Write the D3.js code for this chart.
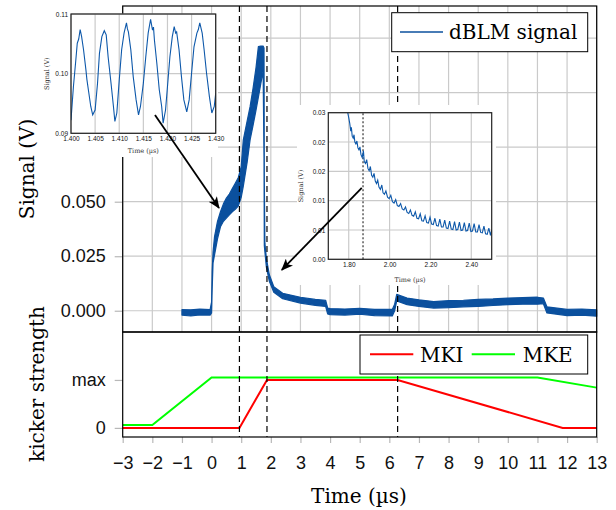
<!DOCTYPE html>
<html lang="en">
<head>
<meta charset="utf-8">
<title>dBLM signal and kicker strength</title>
<script src="https://cdnjs.cloudflare.com/ajax/libs/d3/7.8.5/d3.min.js"></script>
<style>
  body { margin: 0; background: #fff; }
  svg { display: block; font-family: "DejaVu Serif", serif; }
  .grid line { stroke: #cacaca; stroke-width: 1.2; }
  .axis path { display: none; }
  .axis line { stroke: #b8b8b8; stroke-width: 1.2; }
  .axis text { fill: #111; }
</style>
</head>
<body>
<script>
// ---- main dBLM signal, envelope of the noisy trace (time in us, volts)
var sigT  = [-1.00, -0.70, -0.40, -0.05, 0.00, 0.02, 0.05, 0.10, 0.20, 0.30, 0.40, 0.50, 0.60, 0.70, 0.80, 0.90, 1.00, 1.07, 1.20, 1.30, 1.40, 1.50, 1.58, 1.66, 1.74, 1.77, 1.78, 1.80, 1.85, 1.95, 2.10, 2.40, 3.00, 3.50, 3.85, 3.92, 4.00, 4.50, 5.00, 5.50, 6.10, 6.18, 6.25, 6.60, 7.00, 7.50, 8.00, 8.50, 9.00, 9.50, 10.00, 10.50, 11.00, 11.20, 11.32, 12.00, 12.50, 13.00];
var sigLo = [-0.0020, -0.0024, -0.0019, -0.0020, -0.0010, 0.0100, 0.0220, 0.0256, 0.0330, 0.0385, 0.0410, 0.0425, 0.0440, 0.0454, 0.0465, 0.0480, 0.0520, 0.0570, 0.0680, 0.0783, 0.0850, 0.0920, 0.0980, 0.1040, 0.1100, 0.0700, 0.0300, 0.0270, 0.0200, 0.0135, 0.0085, 0.0055, 0.0035, 0.0025, 0.0020, -0.0015, -0.0018, -0.0020, -0.0016, -0.0022, -0.0024, 0.0000, 0.0045, 0.0028, 0.0020, 0.0012, 0.0014, 0.0018, 0.0020, 0.0024, 0.0028, 0.0030, 0.0030, 0.0032, -0.0010, -0.0022, -0.0020, -0.0025];
var sigHi = [0.0005, 0.0004, 0.0007, 0.0005, 0.0040, 0.0180, 0.0270, 0.0340, 0.0410, 0.0454, 0.0490, 0.0517, 0.0535, 0.0560, 0.0585, 0.0610, 0.0660, 0.0783, 0.0870, 0.0936, 0.1020, 0.1115, 0.1211, 0.1214, 0.1214, 0.1205, 0.0600, 0.0310, 0.0240, 0.0165, 0.0110, 0.0080, 0.0062, 0.0052, 0.0048, 0.0012, 0.0010, 0.0008, 0.0011, 0.0006, 0.0006, 0.0030, 0.0075, 0.0058, 0.0050, 0.0042, 0.0046, 0.0048, 0.0052, 0.0054, 0.0058, 0.0060, 0.0062, 0.0058, 0.0018, 0.0006, 0.0008, 0.0004];

// ---- kicker strengths (normalised, 1 = max)
var mkiT = [-3, 0.94, 1.87, 6.28, 11.85, 13];
var mkiV = [0, 0, 1, 1, 0, 0];
var mkeT = [-3, -2, 0, 11, 13];
var mkeV = [0.06, 0.06, 1.05, 1.05, 0.84];

// ---- vertical dashed markers
var markerT = [0.94, 1.87, 6.28];

// ---- inset 1 : zoom on the oscillation
var in1T = [1.4000, 1.4005, 1.4010, 1.4013, 1.4016, 1.4019, 1.4022, 1.4026, 1.4031, 1.4033, 1.4036, 1.4041, 1.4045, 1.4050, 1.4055, 1.4059, 1.4064, 1.4069, 1.4073, 1.4077, 1.4083, 1.4088, 1.4091, 1.4095, 1.4100, 1.4105, 1.4110, 1.4115, 1.4117, 1.4119, 1.4124, 1.4129, 1.4135, 1.4140, 1.4144, 1.4150, 1.4155, 1.4160, 1.4165, 1.4169, 1.4171, 1.4173, 1.4178, 1.4183, 1.4188, 1.4191, 1.4196, 1.4200, 1.4205, 1.4210, 1.4214, 1.4217, 1.4219, 1.4224, 1.4229, 1.4234, 1.4240, 1.4245, 1.4250, 1.4255, 1.4261, 1.4264, 1.4267, 1.4272, 1.4276, 1.4281, 1.4287, 1.4292, 1.4297, 1.4300];
var in1V = [0.0922, 0.0978, 0.1023, 0.1051, 0.1058, 0.1074, 0.1062, 0.1040, 0.1006, 0.0990, 0.0973, 0.0945, 0.0931, 0.0939, 0.0984, 0.1034, 0.1062, 0.1072, 0.1065, 0.1028, 0.0984, 0.0945, 0.0920, 0.0934, 0.0989, 0.1040, 0.1068, 0.1085, 0.1075, 0.1070, 0.1040, 0.0995, 0.0956, 0.0931, 0.0945, 0.0984, 0.1028, 0.1068, 0.1091, 0.1073, 0.1078, 0.1056, 0.1017, 0.0973, 0.0945, 0.0917, 0.0939, 0.0978, 0.1028, 0.1062, 0.1079, 0.1068, 0.1070, 0.1040, 0.0995, 0.0956, 0.0936, 0.0956, 0.1001, 0.1045, 0.1068, 0.1074, 0.1085, 0.1068, 0.1040, 0.1001, 0.0961, 0.0934, 0.0945, 0.0967];

// ---- inset 2 : zoom on the decay after the kick
var in2T = [1.795, 1.800, 1.805, 1.810, 1.813, 1.817, 1.822, 1.826, 1.830, 1.835, 1.840, 1.845, 1.850, 1.855, 1.860, 1.866, 1.872, 1.876, 1.882, 1.888, 1.894, 1.900, 1.906, 1.912, 1.918, 1.924, 1.930, 1.936, 1.942, 1.948, 1.955, 1.962, 1.968, 1.975, 1.982, 1.990, 1.998, 2.006, 2.014, 2.022, 2.030, 2.038, 2.046, 2.054, 2.062, 2.070, 2.078, 2.086, 2.094, 2.102, 2.110, 2.118, 2.126, 2.134, 2.142, 2.150, 2.158, 2.166, 2.174, 2.182, 2.190, 2.198, 2.206, 2.214, 2.222, 2.230, 2.238, 2.246, 2.254, 2.262, 2.270, 2.278, 2.286, 2.294, 2.302, 2.310, 2.318, 2.326, 2.334, 2.342, 2.350, 2.358, 2.366, 2.374, 2.382, 2.390, 2.398, 2.406, 2.414, 2.422, 2.430, 2.438, 2.446, 2.454, 2.462, 2.470, 2.478, 2.486, 2.494, 2.500];
var in2V = [0.0300, 0.0290, 0.0278, 0.0262, 0.0270, 0.0252, 0.0248, 0.0255, 0.0240, 0.0236, 0.0242, 0.0228, 0.0224, 0.0230, 0.0214, 0.0208, 0.0222, 0.0200, 0.0196, 0.0204, 0.0186, 0.0181, 0.0190, 0.0172, 0.0168, 0.0176, 0.0160, 0.0155, 0.0162, 0.0148, 0.0143, 0.0152, 0.0136, 0.0133, 0.0140, 0.0127, 0.0124, 0.0131, 0.0118, 0.0115, 0.0122, 0.0110, 0.0108, 0.0114, 0.0103, 0.0101, 0.0107, 0.0096, 0.0094, 0.0101, 0.0090, 0.0088, 0.0097, 0.0084, 0.0083, 0.0093, 0.0079, 0.0078, 0.0089, 0.0075, 0.0074, 0.0086, 0.0072, 0.0071, 0.0084, 0.0069, 0.0068, 0.0082, 0.0066, 0.0066, 0.0080, 0.0064, 0.0063, 0.0078, 0.0062, 0.0061, 0.0077, 0.0060, 0.0061, 0.0076, 0.0059, 0.0060, 0.0075, 0.0058, 0.0059, 0.0074, 0.0057, 0.0058, 0.0073, 0.0056, 0.0056, 0.0071, 0.0055, 0.0054, 0.0068, 0.0052, 0.0051, 0.0064, 0.0049, 0.0060];
var in2Mark = 1.87;

// ---- ticks
var xTicks = d3.range(-3, 14, 1);
var topTicks = [0, 0.025, 0.05, 0.075, 0.1, 0.125];
var botTicks = [0, 1];
var botLabels = ["0", "max"];
var in1XTicks = [1.400, 1.405, 1.410, 1.415, 1.420, 1.425, 1.430];
var in1YTicks = [0.09, 0.10, 0.11];
var in2XTicks = [1.80, 2.00, 2.20, 2.40];
var in2YTicks = [0, 0.006, 0.012, 0.018, 0.024, 0.03];

// ---- arrows, in main-panel data coordinates [[t0, v0], [t1, v1]]
var arrows = [[[-1.91, 0.0898], [0.25, 0.0471]], [[5.07, 0.0564], [2.37, 0.0187]]];

var w = 616, h = 510;
var blue = "#0b509e";

var x = d3.scaleLinear().domain([-3, 13]).range([122.7, 596.7]);
var yTop = d3.scaleLinear().domain([-0.00975, 0.13975]).range([332, 6]);
var yBot = d3.scaleLinear().domain([-0.19, 2]).range([437, 332]);

var svg = d3.select("body").append("svg").attr("width", w).attr("height", h);

var defs = svg.append("defs");
defs.append("marker")
    .attr("id", "head").attr("viewBox", "0 0 12 10")
    .attr("refX", 11).attr("refY", 5)
    .attr("markerWidth", 12).attr("markerHeight", 10)
    .attr("markerUnits", "userSpaceOnUse").attr("orient", "auto")
  .append("path").attr("d", "M0,0 L12,5 L0,10 L3,5 Z").attr("fill", "#000");

// ---- top panel grid
var grid = svg.append("g").attr("class", "grid");
grid.selectAll(".gx").data(xTicks).enter().append("line")
    .attr("x1", function(d) { return x(d); }).attr("x2", function(d) { return x(d); })
    .attr("y1", yTop.range()[1]).attr("y2", yTop.range()[0]);
grid.selectAll(".gy").data(topTicks).enter().append("line")
    .attr("x1", x.range()[0]).attr("x2", x.range()[1])
    .attr("y1", function(d) { return yTop(d); }).attr("y2", function(d) { return yTop(d); });

// ---- axes
svg.append("g").attr("class", "axis")
    .attr("transform", "translate(" + x.range()[0] + ",0)")
    .call(d3.axisLeft(yTop).tickValues(topTicks).tickSize(8).tickPadding(9).tickFormat(d3.format(".3f")))
    .selectAll("text").style("font-size", "18px");

svg.append("g").attr("class", "axis")
    .attr("transform", "translate(" + x.range()[0] + ",0)")
    .call(d3.axisLeft(yBot).tickValues(botTicks).tickSize(8).tickPadding(9)
        .tickFormat(function(d, i) { return botLabels[i]; }))
    .selectAll("text").style("font-size", "18px");

svg.append("g").attr("class", "axis")
    .attr("transform", "translate(0," + yBot.range()[0] + ")")
    .call(d3.axisBottom(x).tickValues(xTicks).tickSize(6).tickPadding(13))
    .selectAll("text").style("font-size", "18px");

// ---- signal
var sigData = sigT.map(function(t, i) { return { t: t, lo: sigLo[i], hi: sigHi[i] }; });
var area = d3.area()
    .x(function(d) { return x(d.t); })
    .y0(function(d) { return yTop(d.lo); })
    .y1(function(d) { return yTop(d.hi); });
svg.append("path").datum(sigData).attr("d", area)
    .attr("fill", blue).attr("stroke", blue).attr("stroke-width", 1.2).attr("stroke-linejoin", "round");

// ---- kicker curves
var kLine = d3.line().x(function(d) { return x(d[0]); }).y(function(d) { return yBot(d[1]); });
svg.append("path").datum(mkeT.map(function(t, i) { return [t, mkeV[i]]; }))
    .attr("d", kLine).attr("fill", "none").attr("stroke", "#00ff00").attr("stroke-width", 2);
svg.append("path").datum(mkiT.map(function(t, i) { return [t, mkiV[i]]; }))
    .attr("d", kLine).attr("fill", "none").attr("stroke", "#ff0000").attr("stroke-width", 2);

// ---- dashed markers across both panels
svg.selectAll(".mark").data(markerT).enter().append("line")
    .attr("x1", function(d) { return x(d); }).attr("x2", function(d) { return x(d); })
    .attr("y1", yTop.range()[1]).attr("y2", yBot.range()[0])
    .attr("stroke", "#000").attr("stroke-width", 1.2).attr("stroke-dasharray", "6,4");

// ---- frames
svg.append("rect").attr("x", x.range()[0]).attr("y", yTop.range()[1])
    .attr("width", x.range()[1] - x.range()[0]).attr("height", yTop.range()[0] - yTop.range()[1])
    .attr("fill", "none").attr("stroke", "#000").attr("stroke-width", 1.2);
svg.append("rect").attr("x", x.range()[0]).attr("y", yBot.range()[1])
    .attr("width", x.range()[1] - x.range()[0]).attr("height", yBot.range()[0] - yBot.range()[1])
    .attr("fill", "none").attr("stroke", "#000").attr("stroke-width", 1.2);

// ---- legends
var lg1 = svg.append("g");
lg1.append("rect").attr("x", 391.7).attr("y", 12.7).attr("width", 196).attr("height", 39)
   .attr("fill", "#fff").attr("stroke", "#000").attr("stroke-width", 1);
lg1.append("line").attr("x1", 400).attr("x2", 443).attr("y1", 32).attr("y2", 32)
   .attr("stroke", blue).attr("stroke-width", 1.3);
lg1.append("text").attr("x", 449).attr("y", 39).style("font-size", "20px").text("dBLM signal");

var lg2 = svg.append("g");
lg2.append("rect").attr("x", 360).attr("y", 335).attr("width", 227.7).attr("height", 39)
   .attr("fill", "#fff").attr("stroke", "#000").attr("stroke-width", 1);
lg2.append("line").attr("x1", 370).attr("x2", 413.3).attr("y1", 354.3).attr("y2", 354.3)
   .attr("stroke", "#ff0000").attr("stroke-width", 2);
lg2.append("text").attr("x", 420).attr("y", 361.5).style("font-size", "20px").text("MKI");
lg2.append("line").attr("x1", 471.7).attr("x2", 515).attr("y1", 354.3).attr("y2", 354.3)
   .attr("stroke", "#00ff00").attr("stroke-width", 2);
lg2.append("text").attr("x", 522.7).attr("y", 361.5).style("font-size", "20px").text("MKE");

// ---- axis titles
svg.append("text").attr("transform", "translate(34,169) rotate(-90)")
   .attr("text-anchor", "middle").style("font-size", "20px").text("Signal (V)");
svg.append("text").attr("transform", "translate(44,384) rotate(-90)")
   .attr("text-anchor", "middle").style("font-size", "20px").text("kicker strength");
svg.append("text").attr("x", 359).attr("y", 503)
   .attr("text-anchor", "middle").style("font-size", "20px").text("Time (\u00b5s)");

// ---- insets
function drawInset(cfg) {
  var g = svg.append("g");
  g.append("rect").attr("x", cfg.bg[0]).attr("y", cfg.bg[1]).attr("width", cfg.bg[2]).attr("height", cfg.bg[3])
   .attr("fill", "#fff");
  var ix = d3.scaleLinear().domain(cfg.xd).range(cfg.xr);
  var iy = d3.scaleLinear().domain(cfg.yd).range(cfg.yr);
  var gg = g.append("g").attr("class", "grid");
  gg.selectAll(".a").data(cfg.xt).enter().append("line")
    .attr("x1", function(d) { return ix(d); }).attr("x2", function(d) { return ix(d); })
    .attr("y1", cfg.yr[0]).attr("y2", cfg.yr[1]);
  gg.selectAll(".b").data(cfg.yt).enter().append("line")
    .attr("x1", cfg.xr[0]).attr("x2", cfg.xr[1])
    .attr("y1", function(d) { return iy(d); }).attr("y2", function(d) { return iy(d); });

  var ax = g.append("g").attr("class", "axis").attr("transform", "translate(0," + cfg.yr[0] + ")")
    .call(d3.axisBottom(ix).tickValues(cfg.xt).tickSize(0).tickPadding(3).tickFormat(d3.format(cfg.xf)));
  ax.selectAll("text").style("font-size", "6.5px");
  var ay = g.append("g").attr("class", "axis").attr("transform", "translate(" + cfg.xr[0] + ",0)")
    .call(d3.axisLeft(iy).tickValues(cfg.yt).tickSize(0).tickPadding(3).tickFormat(d3.format(".2f")));
  ay.selectAll("text").style("font-size", "6.5px");

  var id = "clip" + cfg.name;
  defs.append("clipPath").attr("id", id).append("rect")
    .attr("x", cfg.xr[0]).attr("y", cfg.yr[1])
    .attr("width", cfg.xr[1] - cfg.xr[0]).attr("height", cfg.yr[0] - cfg.yr[1]);

  if (cfg.mark != null) {
    g.append("line").attr("x1", ix(cfg.mark)).attr("x2", ix(cfg.mark))
     .attr("y1", cfg.yr[0]).attr("y2", cfg.yr[1])
     .attr("stroke", "#333").attr("stroke-width", 1.2).attr("stroke-dasharray", "2,2");
  }

  var line = d3.line().x(function(d) { return ix(d[0]); }).y(function(d) { return iy(d[1]); });
  g.append("path").datum(cfg.t.map(function(t, i) { return [t, cfg.v[i]]; }))
   .attr("clip-path", "url(#" + id + ")")
   .attr("d", line).attr("fill", "none").attr("stroke", "#0d58aa").attr("stroke-width", 1.1);

  g.append("rect").attr("x", cfg.xr[0]).attr("y", cfg.yr[1])
   .attr("width", cfg.xr[1] - cfg.xr[0]).attr("height", cfg.yr[0] - cfg.yr[1])
   .attr("fill", "none").attr("stroke", "#222").attr("stroke-width", 1.2);

  g.append("text").attr("transform", "translate(" + cfg.ylab[0] + "," + cfg.ylab[1] + ") rotate(-90)")
   .attr("text-anchor", "middle").style("font-size", "6.5px").attr("fill", "#333").text("Signal (V)");
  g.append("text").attr("x", cfg.xlab[0]).attr("y", cfg.xlab[1])
   .attr("text-anchor", "middle").style("font-size", "6.5px").attr("fill", "#333").text("Time (\u00b5s)");
}

drawInset({
  name: "a", bg: [40, 14, 178, 143],
  xd: [1.4, 1.43], xr: [71, 215.7], yd: [0.09, 0.11], yr: [133.3, 14],
  xt: in1XTicks, yt: in1YTicks, xf: ".3f",
  t: in1T, v: in1V, mark: null,
  ylab: [49, 73.7], xlab: [143.3, 152.5]
});

drawInset({
  name: "b", bg: [297, 105, 199, 180],
  xd: [1.7, 2.5], xr: [328.3, 491.7], yd: [0, 0.03], yr: [259.3, 112.7],
  xt: in2XTicks, yt: in2YTicks, xf: ".2f",
  t: in2T, v: in2V, mark: in2Mark,
  ylab: [302.5, 186], xlab: [410, 281.5]
});

// ---- arrows
svg.selectAll(".arrow").data(arrows).enter().append("line")
   .attr("x1", function(d) { return x(d[0][0]); }).attr("y1", function(d) { return yTop(d[0][1]); })
   .attr("x2", function(d) { return x(d[1][0]); }).attr("y2", function(d) { return yTop(d[1][1]); })
   .attr("stroke", "#000").attr("stroke-width", 1.8).attr("marker-end", "url(#head)");
</script>
</body>
</html>
